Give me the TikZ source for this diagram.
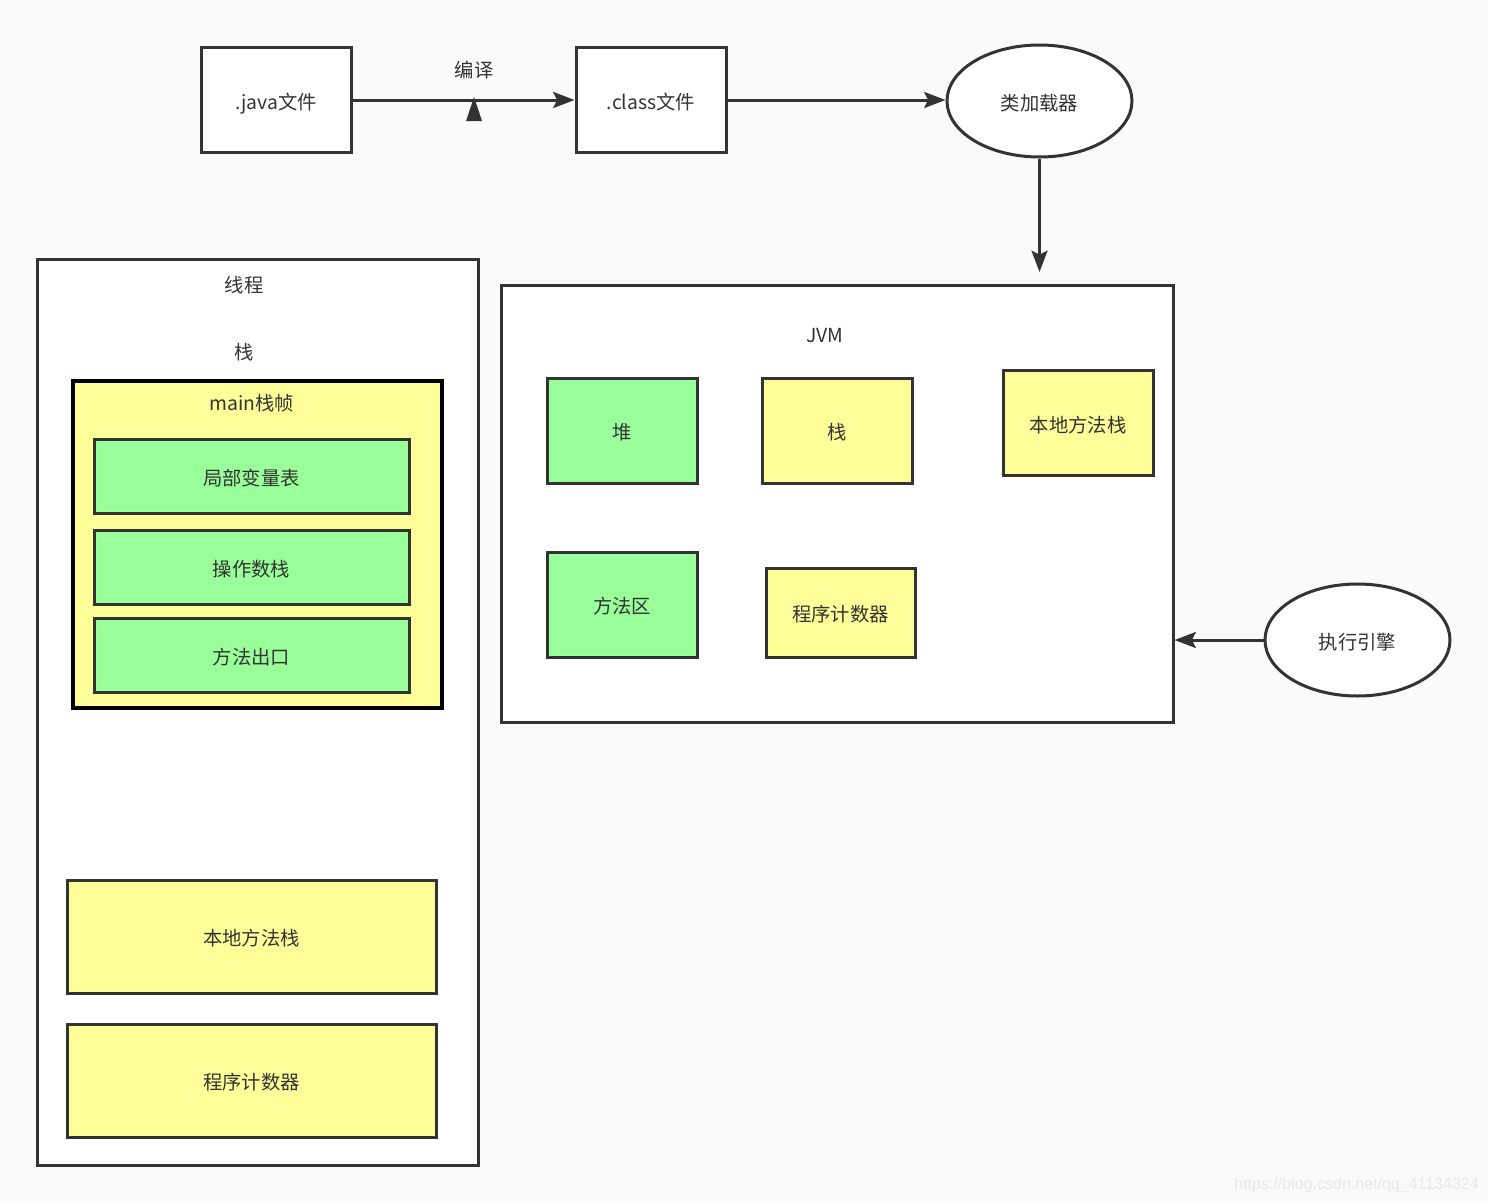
\documentclass[tikz,border=0pt]{standalone}
\usepackage{fontspec}
\setmainfont{Noto Sans CJK SC}
\newfontfamily\markfont{Liberation Sans}
\usetikzlibrary{arrows.meta,shapes.geometric}
\definecolor{bg}{HTML}{FAFAFA}
\definecolor{ln}{HTML}{333333}
\definecolor{grn}{HTML}{99FF99}
\definecolor{ylw}{HTML}{FFFF99}
\begin{document}
\begin{tikzpicture}[x=0.75pt,y=-0.75pt,
    font=\fontsize{14.5pt}{17pt}\selectfont,
    txt/.style={text=ln,inner sep=0pt},
    box/.style={draw=ln,line width=2.25pt,fill=white,text=ln,inner sep=0pt,
      text height=14pt,text depth=0pt,
      minimum width=112.5pt,minimum height=78.75pt},
    greenbox/.style={box,fill=grn},
    yellowbox/.style={box,fill=ylw},
    oval/.style={ellipse,draw=ln,line width=2.25pt,fill=white,text=ln,inner sep=0pt,
      text height=14pt,text depth=0pt,
      minimum width=138.75pt,minimum height=84pt},
    arrow/.style={draw=ln,line width=2.25pt,-{Stealth[length=16pt,width=12pt,inset=3pt]}}]
  \useasboundingbox[fill=bg] (0,0) rectangle (1488,1203);
  % top row
  \node[box] (java) at (276,100) {.java文件};
  \node[box] (class) at (651,100) {.class文件};
  \node[oval] (loader) at (1039.5,101) {类加载器};
  \node[txt] (compile) at (474,70) {编译};
  \draw[arrow] (java) -- (class);
  \fill[ln] (474,97) -- (482,121) -- (466,121) -- cycle;
  \draw[arrow] (class.east) -- (class.east -| loader.west);
  % jvm
  \node[box,minimum width=504pt,minimum height=327.75pt] (jvm) at (837,503.5) {};
  \node[txt] (jvmlabel) at (825,336) {JVM};
  \node[greenbox] (heap) at (622,430.5) {堆};
  \node[yellowbox] (jstack) at (837,430.5) {栈};
  \node[yellowbox] (jnative) at (1078,423) {本地方法栈};
  \node[greenbox] (marea) at (622,604.5) {方法区};
  \node[yellowbox,minimum width=111.75pt,minimum height=66.75pt] (jpc) at (840.5,612.5) {程序计数器};
  \coordinate (jvmin) at (1039.5,272);
  \draw[arrow] (loader.south) -- (jvmin);
  \node[oval] (engine) at (1357.5,640) {执行引擎};
  \draw[arrow] (engine.west) -- (engine.west -| jvm.east);
  % thread
  \node[box,minimum width=330.75pt,minimum height=679.5pt] (thread) at (257.5,712) {};
  \node[txt] (threadlabel) at (244,285) {线程};
  \node[txt] (stacklabel) at (244,352) {栈};
  \node[box,draw=black,fill=ylw,line width=2.5pt,minimum width=276.75pt,minimum height=245.25pt] (frame) at (257.5,544.5) {};
  \node[txt] (framelabel) at (252,403) {main栈帧};
  \begin{scope}[every node/.style={greenbox,minimum width=236.25pt,minimum height=55.5pt}]
    \node (locals) at (251.5,476) {局部变量表};
    \node (operand) at (251.5,567) {操作数栈};
    \node (exit) at (251.5,655) {方法出口};
  \end{scope}
  \node[yellowbox,minimum width=276.75pt,minimum height=84.75pt] (tnative) at (251.5,936.5) {本地方法栈};
  \node[yellowbox,minimum width=276.75pt,minimum height=84.75pt] (tpc) at (251.5,1080.5) {程序计数器};
  \node[anchor=east,inner sep=0pt,text=black!9,font=\markfont\fontsize{12pt}{14pt}\selectfont] (mark) at (1479,1185) {https://blog.csdn.net/qq\_41134324};
\end{tikzpicture}
\end{document}
